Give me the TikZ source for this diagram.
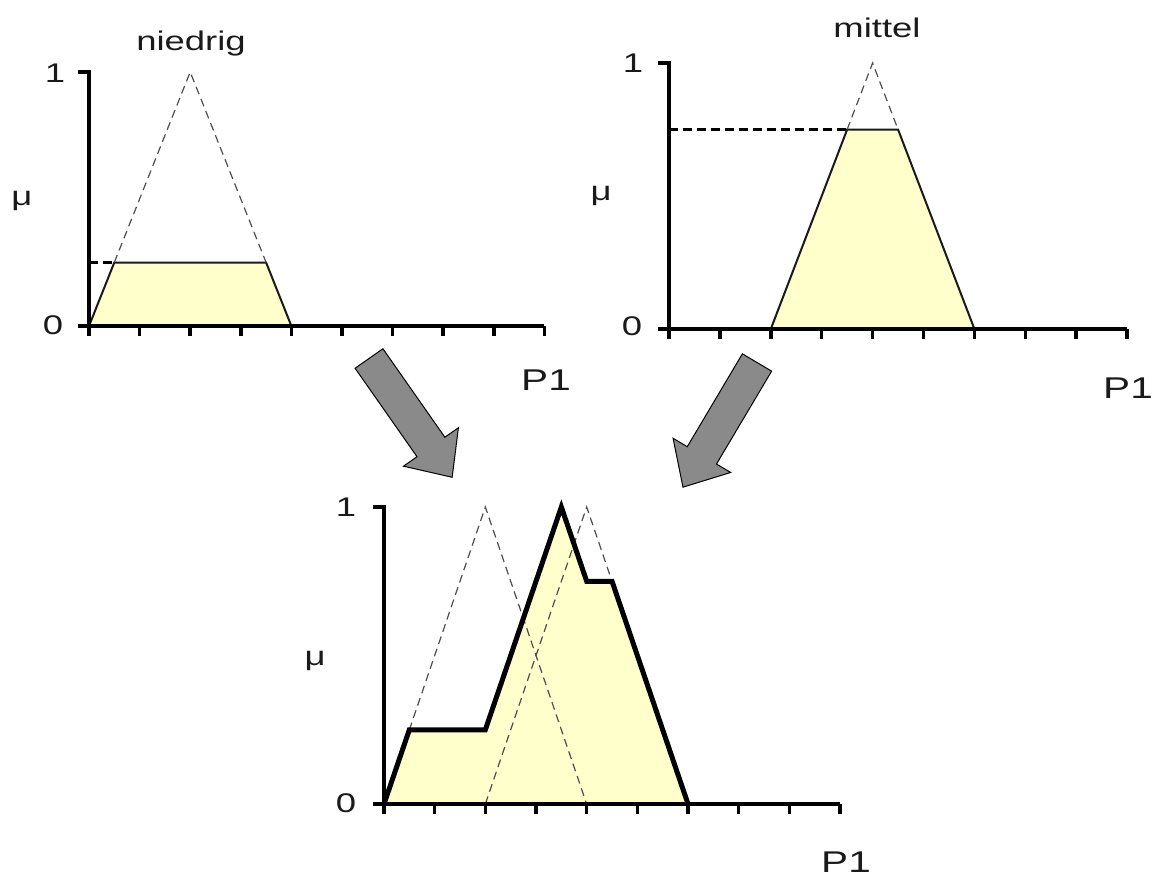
\documentclass[tikz,border=0pt]{standalone}
\usepackage{fontspec}
\setmainfont[FakeStretch=1.35]{Liberation Sans}
\usepackage{tikz}
\definecolor{fuzzfill}{HTML}{FFFFCC}
\definecolor{ink}{HTML}{1A1A1A}
\definecolor{guidegray}{HTML}{4D4D4D}
\definecolor{arrowgray}{HTML}{8A8A8A}

\begin{document}
\begin{tikzpicture}[x=1pt, y=-1pt,
  lbl/.style={inner sep=0pt, text=ink, font=\fontsize{27}{32}\selectfont},
  axlbl/.style={inner sep=0pt, text=ink, font=\fontsize{30}{34}\selectfont},
  axis/.style={draw=black, line width=3.5pt},
  fuzzy/.style={fill=fuzzfill},
  edge/.style={draw=ink, line width=2pt},
  guide/.style={draw=guidegray, line width=1.2pt, dash pattern=on 8pt off 5pt},
  cut/.style={draw=black, line width=3.5pt, dash pattern=on 9pt off 5pt},
  result/.style={draw=black, line width=5pt},
  bigarrow/.style={fill=arrowgray, draw=black, line width=1pt},
]
  \useasboundingbox (0,0) rectangle (1156,878);

  % niedrig
  \begin{scope}[shift={(89,326)}, x=50.6pt, y=254pt]
    \fill[fuzzy] (0,0) -- (0.5,0.25) -- (3.5,0.25) -- (4,0) -- cycle;
    \draw[edge] (0,0) -- (0.5,0.25) -- (3.5,0.25) -- (4,0);
    \draw[guide] (0.5,0.25) -- (2,1) -- (3.5,0.25);
    \draw[cut] (0,0.25) -- (0.5,0.25);
    \draw[axis] (-0.22,1) -- (0,1) -- (0,0) -- (9,0);
    \draw[axis] (-0.22,0) -- (0,0);
    \foreach \k in {0,...,9} \draw[axis] (\k,0) -- (\k,-0.04);
  \end{scope}
  \node[lbl, anchor=base] (lowname) at (191,50) {niedrig};
  \node[lbl] (lowone) at (55,73) {1};
  \node[lbl] (lowzero) at (53,325) {0};
  \node[lbl, anchor=base] (lowmu) at (22,205) {μ};
  \node[axlbl] (lowp) at (546,380) {P1};

  % mittel
  \begin{scope}[shift={(669,329)}, x=50.9pt, y=266pt]
    \fill[fuzzy] (2,0) -- (3.5,0.75) -- (4.5,0.75) -- (6,0) -- cycle;
    \draw[edge] (2,0) -- (3.5,0.75) -- (4.5,0.75) -- (6,0);
    \draw[guide] (3.5,0.75) -- (4,1) -- (4.5,0.75);
    \draw[cut] (0,0.75) -- (3.5,0.75);
    \draw[axis] (-0.22,1) -- (0,1) -- (0,0) -- (9,0);
    \draw[axis] (-0.22,0) -- (0,0);
    \foreach \k in {0,...,9} \draw[axis] (\k,0) -- (\k,-0.038);
  \end{scope}
  \node[lbl, anchor=base] (midname) at (877,37) {mittel};
  \node[lbl] (midone) at (633,63) {1};
  \node[lbl] (midzero) at (632,326) {0};
  \node[lbl, anchor=base] (midmu) at (601,200) {μ};
  \node[axlbl] (midp) at (1128,388) {P1};

  % block arrows
  \draw[bigarrow, shift={(369,358.5)}, rotate=-55]
    (0,-17) -- (108,-17) -- (108,-33.5) -- (145,0) -- (108,33.5) -- (108,17) -- (0,17) -- cycle;
  \draw[bigarrow, shift={(757,362.5)}, rotate=-120.7]
    (0,-17) -- (108,-17) -- (108,-33.5) -- (145,0) -- (108,33.5) -- (108,17) -- (0,17) -- cycle;

  % result
  \begin{scope}[shift={(384,804)}, x=50.67pt, y=297pt]
    \fill[fuzzy] (0,0) -- (0.5,0.25) -- (2,0.25) -- (3.5,1) -- (4,0.75) -- (4.5,0.75) -- (6,0) -- cycle;
    \draw[guide] (0,0) -- (2,1) -- (4,0);
    \draw[guide] (2,0) -- (4,1) -- (6,0);
    \draw[result] (0,0) -- (0.5,0.25) -- (2,0.25) -- (3.5,1) -- (4,0.75) -- (4.5,0.75) -- (6,0);
    \draw[axis] (-0.22,1) -- (0,1) -- (0,0) -- (9,0);
    \draw[axis] (-0.22,0) -- (0,0);
    \foreach \k in {0,...,9} \draw[axis] (\k,0) -- (\k,-0.034);
  \end{scope}
  \node[lbl] (resone) at (346,507) {1};
  \node[lbl] (reszero) at (346,803) {0};
  \node[lbl, anchor=base] (resmu) at (315,665) {μ};
  \node[axlbl] (resp) at (846,862) {P1};
\end{tikzpicture}
\end{document}
